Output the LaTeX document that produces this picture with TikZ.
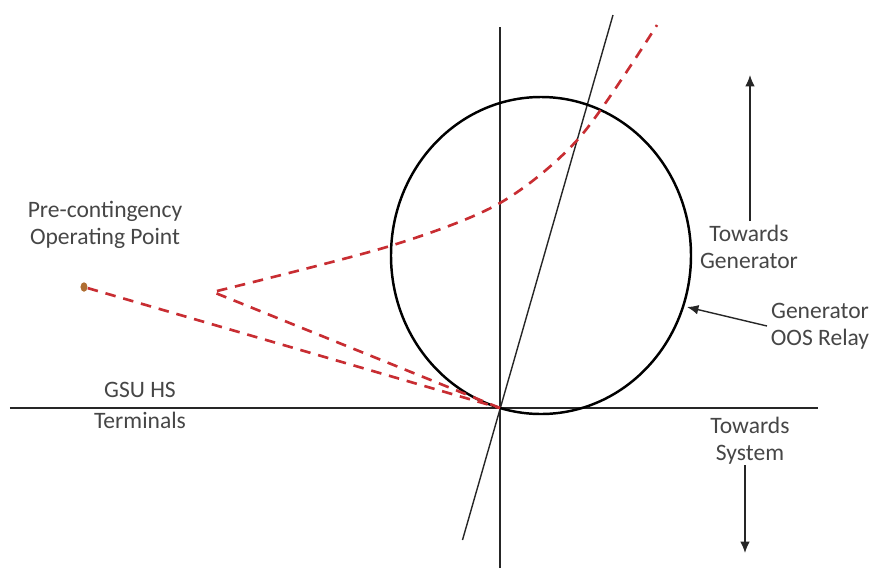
\documentclass[tikz,border=0pt]{standalone}
\usepackage{fontspec}
\setmainfont{Carlito}
\usetikzlibrary{arrows.meta,shapes.geometric}
\definecolor{trajred}{RGB}{200,45,50}
\definecolor{opdot}{RGB}{175,110,50}
\definecolor{lblgray}{RGB}{70,70,70}
\begin{document}
\begin{tikzpicture}[font=\fontsize{13.4}{15.6}\selectfont,
  lbl/.style={text=lblgray,align=center,inner sep=0pt},
  axis/.style={line width=0.8pt,black!85},
  traj/.style={trajred,line width=1.5pt,dash pattern=on 6pt off 4.5pt},
  dirarrow/.style={-{Latex[length=6.5pt,width=5.5pt]},line width=0.8pt,black!85}]
  \useasboundingbox (-10,-3.26) rectangle (7.5,8.16);
  \coordinate (O) at (0,0);
  % impedance plane
  \draw[axis] (-9.8,0)--(6.36,0);
  \draw[axis] (0,-3.2)--(0,7.62);
  \draw[axis] (-0.75,-2.64)--(2.26,7.86);
  \draw[line width=1.4pt] (0.82,3.05) ellipse (3 and 3.17);
  % swing trajectory
  \node[ellipse,fill=opdot,minimum width=0.14cm,minimum height=0.19cm,inner sep=0pt] (oppt) at (-8.32,2.42) {};
  \draw[traj] (oppt)--(O);
  \draw[traj] (O)--plot[smooth] coordinates {(-5.74,2.32)(-2.20,3.24)(0,4.10)(1.60,5.42)(3.14,7.66)};
  % labels
  \node[lbl] (precont) at (-7.9,3.66) {Pre-contingency\\Operating Point};
  \node[lbl] (gsuhs) at (-7.2,0.36) {GSU HS};
  \node[lbl] (terminals) at (-7.2,-0.24) {Terminals};
  \node[lbl] (towgen) at (4.98,3.22) {Towards\\Generator};
  \node[lbl] (relay) at (6.4,1.64) {Generator\\OOS Relay};
  \node[lbl] (towsys) at (5.0,-0.66) {Towards\\System};
  \coordinate (gentip) at (5.0,6.66);
  \coordinate (systip) at (4.9,-2.9);
  \coordinate (reltip) at (3.74,2.02);
  \draw[dirarrow] ([yshift=2pt]towgen.north -| gentip)--(gentip);
  \draw[dirarrow] (systip |- towsys.south)--(systip);
  \draw[dirarrow] ([xshift=-2pt]relay.west)--(reltip);
\end{tikzpicture}
\end{document}
